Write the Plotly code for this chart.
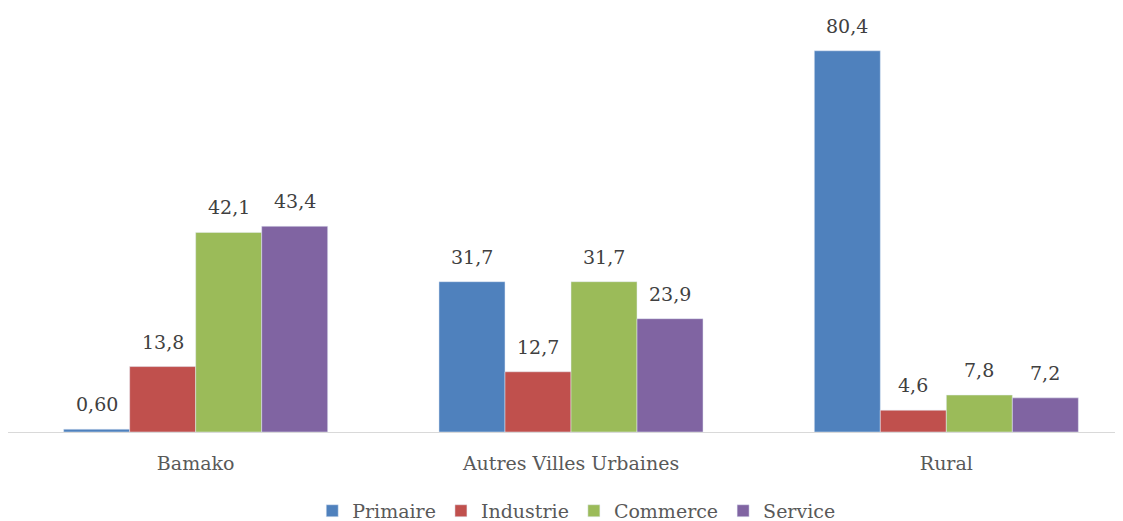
import plotly.graph_objects as go

categories = ["Bamako", "Autres Villes Urbaines", "Rural"]
series_names = ["Primaire", "Industrie", "Commerce", "Service"]
primaire = [0.60, 31.7, 80.4]
industrie = [13.8, 12.7, 4.6]
commerce = [42.1, 31.7, 7.8]
service = [43.4, 23.9, 7.2]
labels = [
    ["0,60", "31,7", "80,4"],
    ["13,8", "12,7", "4,6"],
    ["42,1", "31,7", "7,8"],
    ["43,4", "23,9", "7,2"],
]

colors = ["#4F81BD", "#C0504D", "#9BBB59", "#8064A2"]
font = "DejaVu Serif"
fsize = 19

BAR_PX = 66  # width of one bar on screen, for label offsets

fig = go.Figure()
all_vals = [primaire, industrie, commerce, service]
for i, (name, vals, col) in enumerate(zip(series_names, all_vals, colors)):
    fig.add_trace(go.Bar(x=categories, y=vals, name=name, marker_color=col))
    for cat, v, t in zip(categories, vals, labels[i]):
        fig.add_annotation(
            x=cat, y=v, text=t, showarrow=False,
            xshift=(i - 1.5) * BAR_PX, yshift=25, yanchor="middle",
            font=dict(family=font, size=fsize, color="#404040"),
        )

fig.update_layout(
    width=1123, height=521,
    barmode="group", bargap=0.2965, bargroupgap=0,
    plot_bgcolor="white", paper_bgcolor="white",
    margin=dict(l=0, r=0, t=2, b=97, autoexpand=False),
    font=dict(family=font, size=fsize, color="#595959"),
    showlegend=True,
    legend=dict(orientation="h", x=0.506, xanchor="center", y=-0.187, yanchor="middle",
                font=dict(family=font, size=fsize, color="#595959"), traceorder="normal",
                itemwidth=30),
)
fig.update_xaxes(range=[-0.5, 2.492], showline=True, linecolor="#D9D9D9", linewidth=1,
                 ticks="", ticklabelstandoff=14,
                 tickfont=dict(family=font, size=fsize, color="#595959"), showgrid=False)
fig.update_yaxes(range=[0, 89], visible=False, showgrid=False, zeroline=False)

fig.write_html("out.html")
